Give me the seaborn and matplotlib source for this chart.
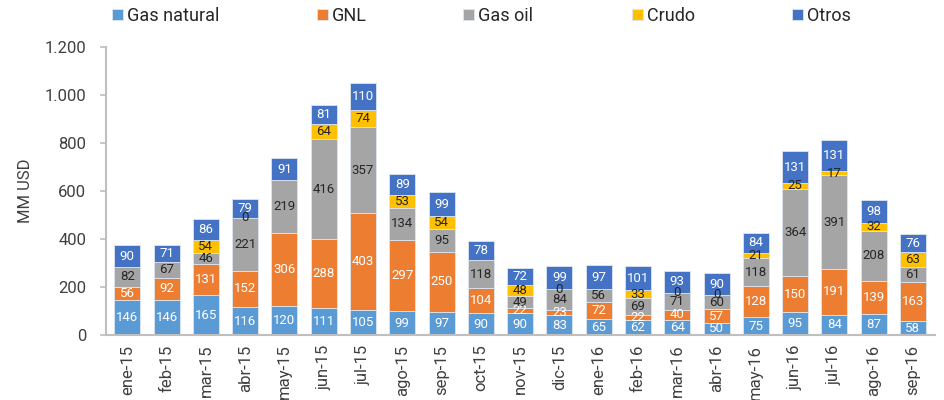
import numpy as np
import pandas as pd
import matplotlib
matplotlib.use("Agg")
import matplotlib.pyplot as plt
import seaborn as sns
from matplotlib.ticker import FuncFormatter, FixedLocator

meses = ["ene-15", "feb-15", "mar-15", "abr-15", "may-15", "jun-15", "jul-15",
         "ago-15", "sep-15", "oct-15", "nov-15", "dic-15", "ene-16", "feb-16",
         "mar-16", "abr-16", "may-16", "jun-16", "jul-16", "ago-16", "sep-16"]

gas_natural = [146, 146, 165, 116, 120, 111, 105, 99, 97, 90, 90, 83, 65, 62, 64, 50, 75, 95, 84, 87, 58]
gnl = [56, 92, 131, 152, 306, 288, 403, 297, 250, 104, 22, 23, 72, 22, 40, 57, 128, 150, 191, 139, 163]
gas_oil = [82, 67, 46, 221, 219, 416, 357, 134, 95, 118, 49, 84, 56, 69, 71, 60, 118, 364, 391, 208, 61]
crudo = [np.nan, np.nan, 54, 0, np.nan, 64, 74, 53, 54, np.nan, 48, 0, np.nan, 33, 0, 0, 21, 25, 17, 32, 63]
otros = [90, 71, 86, 79, 91, 81, 110, 89, 99, 78, 72, 99, 97, 101, 93, 90, 84, 131, 131, 98, 76]

series = ["Gas natural", "GNL", "Gas oil", "Crudo", "Otros"]
colores = ["#5B9BD5", "#ED7D31", "#A5A5A5", "#FFC000", "#4472C4"]
color_texto = ["white", "white", "#262626", "#262626", "white"]

df = pd.DataFrame({"mes": meses, "Gas natural": gas_natural, "GNL": gnl,
                   "Gas oil": gas_oil, "Crudo": crudo, "Otros": otros})

sns.set_style("white")
plt.rcParams["font.family"] = ["Roboto", "DejaVu Sans"]

W, H = 944, 400
fig = plt.figure(figsize=(W / 100, H / 100), dpi=100)
ax = fig.add_axes([0.112, 0.1625, 0.878, 0.72])

bottom = np.zeros(len(meses))
for serie, col, tcol in zip(series, colores, color_texto):
    vals = df[serie].fillna(0).to_numpy(dtype=float)
    sns.barplot(x=df["mes"], y=vals, bottom=bottom, color=col, width=0.66,
                edgecolor="#dde6f0", linewidth=0.6, ax=ax, label=serie,
                saturation=1)
    for i, v in enumerate(df[serie]):
        if pd.isna(v):
            continue
        ax.text(i, bottom[i] + vals[i] / 2, f"{int(v)}", ha="center", va="center",
                fontsize=9.5, color=tcol)
    bottom += vals

ax.set_ylim(0, 1200)
ax.set_xlim(-0.55, len(meses) - 0.45)
ax.yaxis.set_major_locator(FixedLocator(range(0, 1201, 200)))
ax.yaxis.set_major_formatter(FuncFormatter(lambda v, p: f"{int(v):,}".replace(",", ".")))
ax.set_ylabel("MM USD", fontsize=12, color="#404040", labelpad=8)
ax.set_xlabel("")

ax.tick_params(axis="x", which="major", length=0, rotation=90, labelsize=12,
               labelcolor="#404040", pad=7)
ax.set_xticks(np.arange(-0.5, len(meses), 1), minor=True)
ax.tick_params(axis="x", which="minor", length=7, color="#bfbfbf", width=1.2)
ax.tick_params(axis="y", length=4, color="#bfbfbf", width=1.2, labelsize=12,
               labelcolor="#404040", left=True, pad=10)

for s in ["top", "right"]:
    ax.spines[s].set_visible(False)
for s in ["left", "bottom"]:
    ax.spines[s].set_color("#bfbfbf")
    ax.spines[s].set_linewidth(1.5)

# leyenda: una entrada por serie, en la posicion de la imagen original
handles, labels = ax.get_legend_handles_labels()
ax.legend().remove()
leg_x = [112, 317, 463, 632, 792]
for h, l, x in zip(handles, labels, leg_x):
    leg = fig.legend([h], [l], loc="center left", bbox_to_anchor=(x / W, 1 - 16 / H),
                     frameon=False, fontsize=13, handlelength=0.6, handleheight=0.6,
                     handletextpad=0.25, borderpad=0, borderaxespad=0)
    for t in leg.get_texts():
        t.set_color("#262626")

fig.savefig("out.png", dpi=100)
